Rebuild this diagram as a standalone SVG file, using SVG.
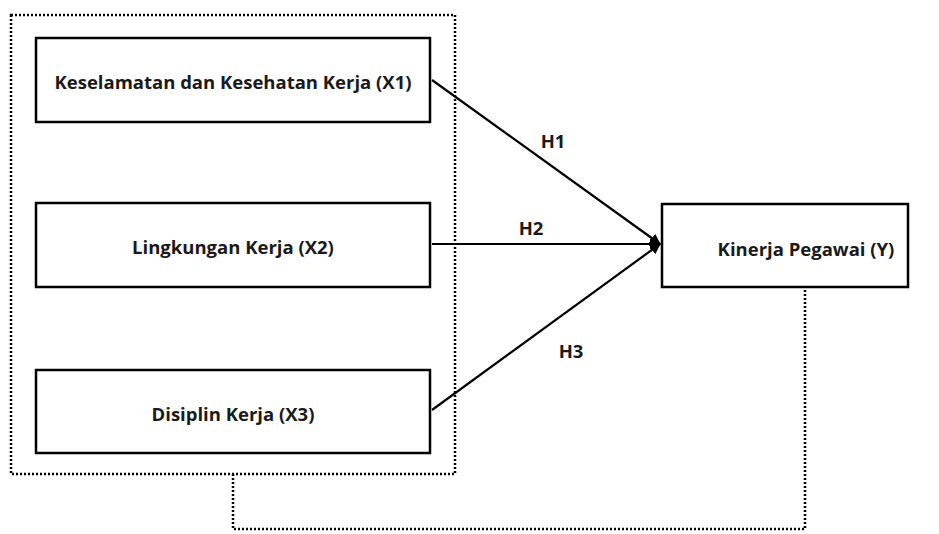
<svg xmlns="http://www.w3.org/2000/svg" width="939" height="534" viewBox="0 0 939 534">
<style>
.box{fill:#fff;stroke:#000;stroke-width:2.5}
.dot{fill:none;stroke:#000;stroke-width:2.5;stroke-dasharray:2 2}
.lbl{font-family:"Open Sans","Liberation Sans",sans-serif;font-weight:700;font-size:18.5px;fill:#1a1a1a;text-anchor:middle;dominant-baseline:central}
.ln{stroke:#000;stroke-width:2.2;fill:none}
</style>
<defs>
<marker id="ah" viewBox="0 0 10 10" refX="9" refY="5" markerWidth="5" markerHeight="5" orient="auto" markerUnits="strokeWidth">
<path d="M0,0 L10,5 L0,10 z" fill="#000"/>
</marker>
</defs>
<g id="group-box">
<rect class="dot" x="11" y="15" width="444" height="459"/>
</g>
<g id="connectors">
<line class="ln" x1="432" y1="80" x2="660" y2="244" marker-end="url(#ah)"/>
<line class="ln" x1="432" y1="244" x2="660" y2="244" marker-end="url(#ah)"/>
<line class="ln" x1="432" y1="410" x2="660" y2="244" marker-end="url(#ah)"/>
<polyline class="dot" points="233,474 233,529 805,529 805,288"/>
<text class="lbl" x="553" y="140">H1</text>
<text class="lbl" x="531" y="227">H2</text>
<text class="lbl" x="571" y="350">H3</text>
</g>
<g id="x1">
<rect class="box" x="36" y="38" width="394" height="84"/>
<text class="lbl" x="233" y="81">Keselamatan dan Kesehatan Kerja (X1)</text>
</g>
<g id="x2">
<rect class="box" x="36" y="203" width="394" height="84"/>
<text class="lbl" x="233" y="246">Lingkungan Kerja (X2)</text>
</g>
<g id="x3">
<rect class="box" x="36" y="370" width="394" height="83"/>
<text class="lbl" x="233" y="413">Disiplin Kerja (X3)</text>
</g>
<g id="y">
<rect class="box" x="662" y="204" width="246" height="83"/>
<text class="lbl" x="806" y="248">Kinerja Pegawai (Y)</text>
</g>
</svg>
